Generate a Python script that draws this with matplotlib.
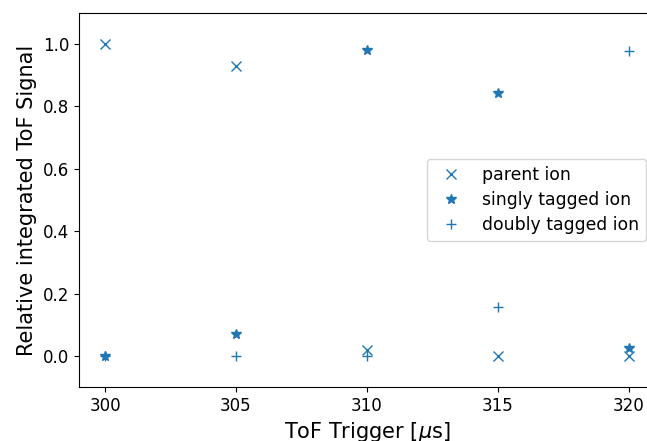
import matplotlib
matplotlib.use("Agg")
import matplotlib.pyplot as plt

trigger = [300, 305, 310, 315, 320]
parent_ion = [1.0, 0.928, 0.02, 0.0, 0.0]
singly_tagged = [0.0, 0.072, 0.98, 0.843, 0.025]
doubly_tagged = [0.0, 0.0, 0.0, 0.158, 0.976]

fig = plt.figure(figsize=(6.47, 4.41), dpi=100)
ax = fig.add_axes([0.122, 0.122, 0.89, 0.849])

ax.plot(trigger, parent_ion, "x", color="tab:blue", markersize=7, label="parent ion")
ax.plot(trigger, singly_tagged, "*", color="tab:blue", markersize=7, label="singly tagged ion")
ax.plot(trigger, doubly_tagged, "+", color="tab:blue", markersize=7, label="doubly tagged ion")

ax.set_xlim(299, 321)
ax.set_ylim(-0.1, 1.1)
ax.set_xticks(trigger)
ax.tick_params(labelsize=12)
ax.set_xlabel(r"ToF Trigger [$\mu$s]", fontsize=15)
ax.set_ylabel("Relative integrated ToF Signal", fontsize=15)
ax.legend(loc="center right", fontsize=12.4, labelspacing=0.4)

plt.savefig("out.png", dpi=100)
